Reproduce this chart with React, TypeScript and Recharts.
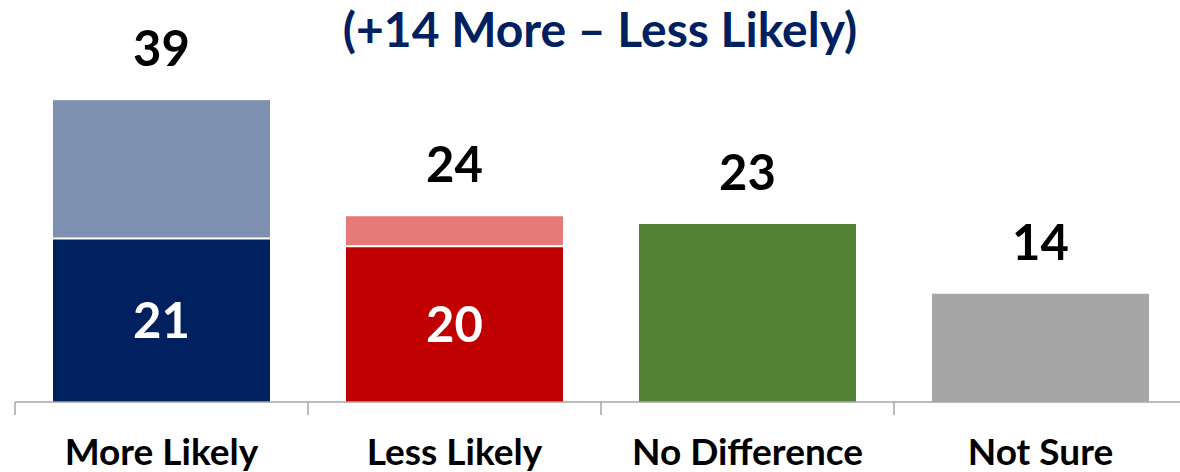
import React from "react";
import { BarChart, Bar, XAxis, YAxis, LabelList, Cell } from "recharts";

const categories = ["More Likely", "Less Likely", "No Difference", "Not Sure"];
const strongValues = [21, 20, 23, 14];
const totalValues = [39, 24, 23, 14];
const strongColors = ["#002060", "#C00000", "#548235", "#A6A6A6"];
const softColors = ["#7F91B1", "#E57A78", "#548235", "#A6A6A6"];
const insideLabelShown = [true, true, false, false];
const title = "(+14 More \u2013 Less Likely)";

const data = categories.map((name, i) => ({
  name,
  strong: strongValues[i],
  soft: totalValues[i] - strongValues[i],
  total: totalValues[i],
}));

const FONT = "Lato, 'Open Sans', sans-serif";
const HALF_BAND = 146.5;

const SoftShape = (props: any) => {
  const { x, y, width, height, index } = props;
  if (!height || height <= 2) return null;
  return <rect x={x} y={y} width={width} height={height - 2} fill={softColors[index]} />;
};

const TotalLabel = (props: any) => {
  const { x, y, width, index } = props;
  return (
    <text
      x={x + width / 2}
      y={y - 34}
      textAnchor="middle"
      fontFamily={FONT}
      fontWeight={700}
      fontSize={49}
      fill="#000"
    >
      {totalValues[index]}
    </text>
  );
};

const InsideLabel = (props: any) => {
  const { x, y, width, height, index } = props;
  if (!insideLabelShown[index]) return null;
  return (
    <text
      x={x + width / 2}
      y={y + height / 2 + 17.5}
      textAnchor="middle"
      fontFamily={FONT}
      fontWeight={700}
      fontSize={49}
      fill="#fff"
    >
      {strongValues[index]}
    </text>
  );
};

const CategoryTick = (props: any) => {
  const { x, y, payload, index } = props;
  return (
    <g>
      <line x1={x - HALF_BAND} y1={y} x2={x - HALF_BAND} y2={y + 13} stroke="#A6A6A6" strokeWidth={1.5} />
      {index === categories.length - 1 && (
        <line x1={x + HALF_BAND} y1={y} x2={x + HALF_BAND} y2={y + 13} stroke="#A6A6A6" strokeWidth={1.5} />
      )}
      <text
        x={x}
        y={y + 63}
        textAnchor="middle"
        fontFamily={FONT}
        fontWeight={700}
        fontSize={37}
        fill="#000"
      >
        {payload.value}
      </text>
    </g>
  );
};

export default function App() {
  return (
    <div style={{ position: "absolute", left: 0, top: 0, width: 1180, height: 472, overflow: "hidden", background: "#fff" }}>
      <BarChart
        width={1200}
        height={472}
        data={data}
        margin={{ top: 15, right: 13, bottom: 0, left: 15 }}
        barSize={217}
      >
        <XAxis
          dataKey="name"
          height={70}
          interval={0}
          tickLine={false}
          tickSize={0}
          tickMargin={0}
          axisLine={{ stroke: "#A6A6A6", strokeWidth: 1.5 }}
          tick={<CategoryTick />}
        />
        <YAxis hide domain={[0, 50]} />
        <Bar dataKey="strong" stackId="a" isAnimationActive={false}>
          {data.map((d, i) => (
            <Cell key={d.name} fill={strongColors[i]} />
          ))}
          <LabelList dataKey="strong" content={<InsideLabel />} />
        </Bar>
        <Bar dataKey="soft" stackId="a" isAnimationActive={false} shape={<SoftShape />}>
          <LabelList dataKey="total" content={<TotalLabel />} />
        </Bar>
      </BarChart>
      <div
        style={{
          position: "absolute",
          left: 100,
          width: 1000,
          top: 0,
          textAlign: "center",
          fontFamily: FONT,
          fontWeight: 700,
          fontSize: 48,
          color: "#002060",
          lineHeight: "normal",
          whiteSpace: "nowrap",
        }}
      >
        {title}
      </div>
    </div>
  );
}
